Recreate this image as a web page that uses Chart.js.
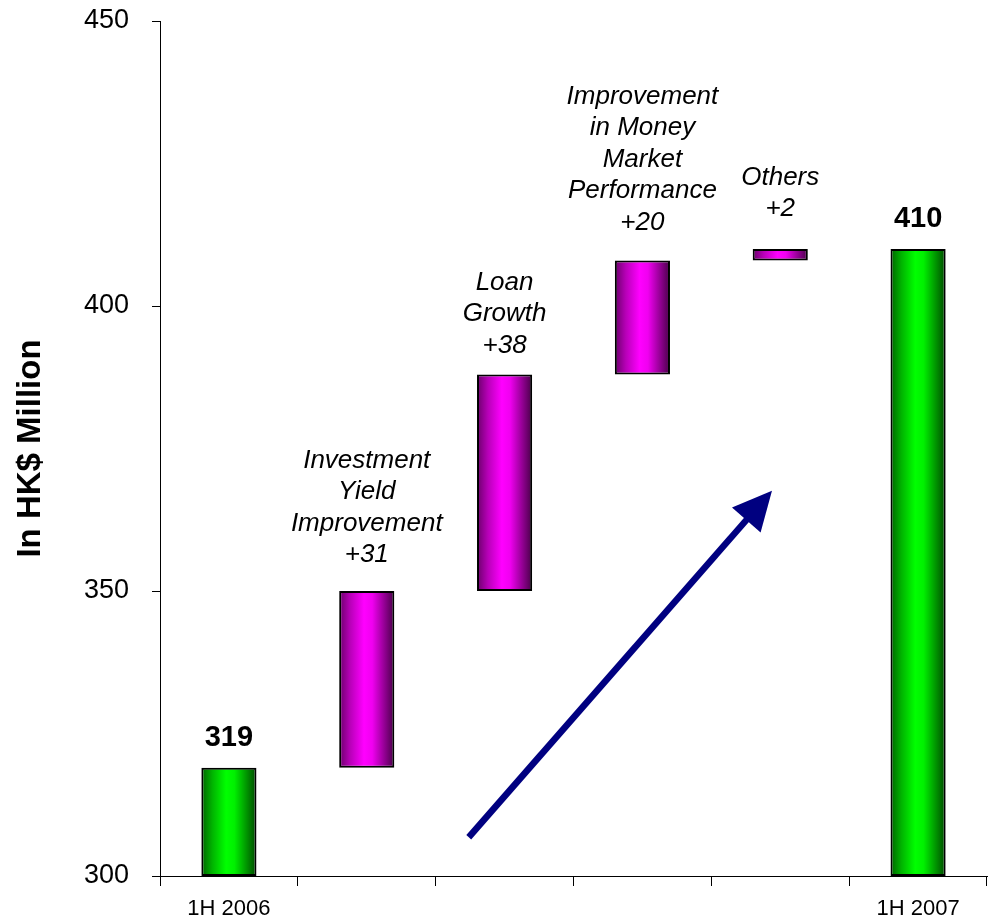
<!DOCTYPE html>
<html>
<head>
<meta charset="utf-8">
<script src="https://cdn.jsdelivr.net/npm/chart.js@4.4.1/dist/chart.umd.min.js"></script>
<style>
    html, body { margin: 0; padding: 0; background: #fff; }
    #contenedor { width: 990px; height: 919px; }
</style>
</head>
<body>
<div id="contenedor"><canvas id="graficoCascada" width="990" height="919"></canvas></div>
<script>
// ==============================================================================
// 1. DATOS DEL GRÁFICO
// ==============================================================================

// Categorías del eje X (solo la primera y la última llevan rótulo visible)
const categorias = ['1H 2006', 'Investment Yield Improvement', 'Loan Growth',
    'Improvement in Money Market Performance', 'Others', '1H 2007'];
const rotulosEje = ['1H 2006', '', '', '', '', '1H 2007'];

// Valores en millones de HK$
const valorInicial = 319;
const valorFinal = 410;
const incrementos = [31, 38, 20, 2];
const textosIncremento = [
    ['Investment', 'Yield', 'Improvement'],
    ['Loan', 'Growth'],
    ['Improvement', 'in Money', 'Market', 'Performance'],
    ['Others']
];

// Marcas del eje Y
const ejeMin = 300;
const ejeMax = 450;
const pasoEje = 50;

// Rangos flotantes de cada barra: [inicio, fin]
const rangos = [[ejeMin, valorInicial]];
let acumulado = valorInicial;
incrementos.forEach(inc => {
    rangos.push([acumulado, acumulado + inc]);
    acumulado += inc;
});
rangos.push([ejeMin, valorFinal]);

const esTotal = i => i === 0 || i === categorias.length - 1;
const FUENTE = '"Liberation Sans", Arial, sans-serif';
const PORCENTAJE_BARRA = 0.4;

// ==============================================================================
// 2. COLORES (degradado horizontal tipo cilindro)
// ==============================================================================

function colorBarra(c) {
    const chart = c.chart;
    const escalaX = chart.scales.x;
    const verde = esTotal(c.dataIndex);
    const base = verde ? '#00ff00' : '#ff00ff';
    if (!escalaX || !chart.chartArea) return base;

    const centro = escalaX.getPixelForValue(c.dataIndex);
    const ancho = escalaX.width / categorias.length * PORCENTAJE_BARRA;
    const g = chart.ctx.createLinearGradient(centro - ancho / 2, 0, centro + ancho / 2, 0);
    if (verde) {
        g.addColorStop(0, '#006400');
        g.addColorStop(0.2, '#00b400');
        g.addColorStop(0.45, '#00ff00');
        g.addColorStop(0.6, '#00f000');
        g.addColorStop(1, '#004a00');
    } else {
        g.addColorStop(0, '#6a006a');
        g.addColorStop(0.2, '#b800b8');
        g.addColorStop(0.45, '#ff00ff');
        g.addColorStop(0.6, '#f000f0');
        g.addColorStop(1, '#480048');
    }
    return g;
}

// ==============================================================================
// 3. PLUGIN: rótulos de valores, textos de incremento y flecha
// ==============================================================================

const pluginRotulos = {
    id: 'rotulosCascada',
    afterDatasetsDraw(chart, args, opts) {
        const ctx = chart.ctx;
        const meta = chart.getDatasetMeta(0);
        const { x: escalaX, y: escalaY } = chart.scales;

        ctx.save();
        ctx.fillStyle = '#000';
        ctx.textAlign = 'center';
        ctx.textBaseline = 'middle';

        meta.data.forEach((barra, i) => {
            const cima = barra.y;
            if (esTotal(i)) {
                ctx.font = 'bold 29px ' + FUENTE;
                ctx.fillText(String(rangos[i][1]), barra.x, cima - 30);
            } else {
                const lineas = textosIncremento[i - 1].concat(['+' + incrementos[i - 1]]);
                const separacion = opts.separacionTexto[i - 1];
                ctx.font = 'italic 26px ' + FUENTE;
                lineas.forEach((linea, k) => {
                    const y = cima - separacion - (lineas.length - 1 - k) * 31.5;
                    ctx.fillText(linea, barra.x, y);
                });
            }
        });

        // Flecha de tendencia
        const x1 = escalaX.getPixelForValue(opts.flecha.desde[0]);
        const y1 = escalaY.getPixelForValue(opts.flecha.desde[1]);
        const x2 = escalaX.getPixelForValue(opts.flecha.hasta[0]);
        const y2 = escalaY.getPixelForValue(opts.flecha.hasta[1]);
        const ang = Math.atan2(y2 - y1, x2 - x1);
        const largoPunta = 39;
        const medioAncho = 19;
        const bx = x2 - largoPunta * Math.cos(ang);
        const by = y2 - largoPunta * Math.sin(ang);

        ctx.strokeStyle = '#000080';
        ctx.fillStyle = '#000080';
        ctx.lineWidth = 6.5;
        ctx.beginPath();
        ctx.moveTo(x1, y1);
        ctx.lineTo(bx + 2 * Math.cos(ang), by + 2 * Math.sin(ang));
        ctx.stroke();

        ctx.beginPath();
        ctx.moveTo(x2, y2);
        ctx.lineTo(bx + medioAncho * Math.sin(ang), by - medioAncho * Math.cos(ang));
        ctx.lineTo(bx - medioAncho * Math.sin(ang), by + medioAncho * Math.cos(ang));
        ctx.closePath();
        ctx.fill();
        ctx.restore();
    }
};

// ==============================================================================
// 4. GENERACIÓN DEL GRÁFICO CON CHART.JS
// ==============================================================================

const ctx = document.getElementById('graficoCascada').getContext('2d');

new Chart(ctx, {
    type: 'bar',
    data: {
        labels: rotulosEje,
        datasets: [{
            label: 'In HK$ Million',
            data: rangos,
            backgroundColor: colorBarra,
            borderColor: '#000',
            borderWidth: 2,
            borderSkipped: false,
            barPercentage: PORCENTAJE_BARRA,
            categoryPercentage: 1
        }]
    },
    options: {
        responsive: false,
        animation: false,
        layout: { padding: { top: 21, right: 3, bottom: 0, left: 0 } },
        plugins: {
            legend: { display: false },
            tooltip: { enabled: false },
            rotulosCascada: {
                // distancia en px entre la cima de cada barra y su última línea de texto
                separacionTexto: [36, 29, 38, 40],
                flecha: { desde: [1.74, 306.8], hasta: [3.94, 367.6] }
            }
        },
        scales: {
            x: {
                grid: {
                    offset: true,
                    drawOnChartArea: false,
                    drawTicks: true,
                    tickLength: 10,
                    color: '#000'
                },
                border: { display: true, color: '#000', width: 1 },
                ticks: {
                    autoSkip: false,
                    maxRotation: 0,
                    padding: 10,
                    color: '#000',
                    font: { family: FUENTE, size: 22 }
                },
                afterFit(escala) { escala.height = 43; }
            },
            y: {
                min: ejeMin,
                max: ejeMax,
                grid: {
                    drawOnChartArea: false,
                    drawTicks: true,
                    tickLength: 8,
                    color: '#000'
                },
                border: { display: true, color: '#000', width: 1 },
                ticks: {
                    stepSize: pasoEje,
                    padding: 23,
                    color: '#000',
                    font: { family: FUENTE, size: 27 }
                },
                title: {
                    display: true,
                    text: 'In HK$ Million',
                    color: '#000',
                    padding: { top: 11, bottom: 0 },
                    font: { family: FUENTE, size: 33, weight: 'bold' }
                },
                afterFit(escala) {
                    // el relleno de las etiquetas no debe empujar el área hacia abajo
                    escala.width = 160;
                    escala.paddingTop = 16;
                    escala.paddingBottom = 16;
                }
            }
        }
    },
    plugins: [pluginRotulos]
});
</script>
</body>
</html>
